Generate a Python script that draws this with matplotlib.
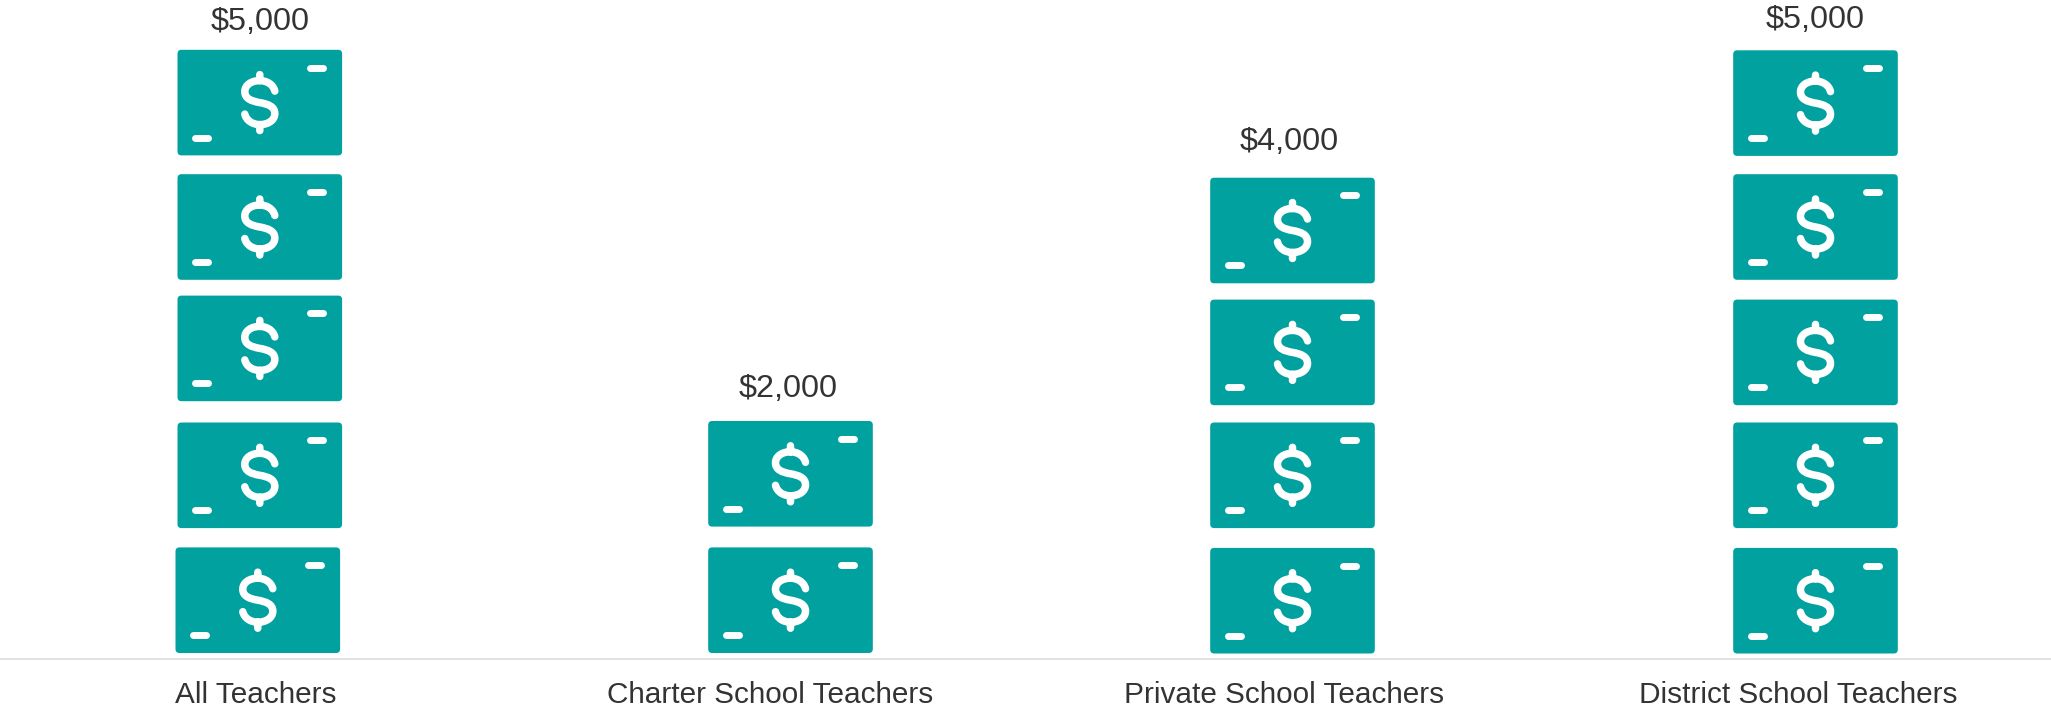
import matplotlib
matplotlib.use("Agg")
import matplotlib.pyplot as plt
from matplotlib.patches import FancyBboxPatch, PathPatch
from matplotlib.path import Path
from matplotlib.transforms import Affine2D

plt.rcParams['font.family'] = ['Liberation Sans', 'DejaVu Sans']

# data
categories = ["All Teachers", "Charter School Teachers", "Private School Teachers", "District School Teachers"]
amounts = [5000, 2000, 4000, 5000]
bill_value = 1000

# layout, in pixels of the 2051x708 picture
W, H = 2051, 708
baseline_px = 659
px_per_bill = 124.9
tick_x = [256, 770, 1284, 1798]
stack_x = [259.8, 790.5, 1292.5, 1815.5]
label_x = [260.5, 788, 1289, 1815]
label_gap = [27.5, 32, 35.5, 30.5]
bill_w, bill_h = 164.6, 105.6
# hand nudges (px, + is up) for each bill, bottom to top
nudge_y = [[1, 1, 3, -0.5, -1], [1, 2.5], [0.5, 1, -1, -4], [0.5, 1, -1, -0.5, -1.5]]
nudge_x = [[-2, 0, 0, 0, 0], [0, 0], [0, 0, 0, 0], [0, 0, 0, 0, 0]]

teal = "#00A19F"
pt = 72 / 100.0  # px to points at dpi 100

fig = plt.figure(figsize=(W / 100, H / 100), dpi=100)
ax = fig.add_axes([0, 0, 1, 1])
ax.set_xlim(0, W)
usd_per_px = bill_value / px_per_bill
ax.set_ylim(-(H - baseline_px) * usd_per_px, baseline_px * usd_per_px)

for s in ["left", "right", "top"]:
    ax.spines[s].set_visible(False)
ax.spines["bottom"].set_position(("data", 0))
ax.spines["bottom"].set_color("#E2E2E2")
ax.spines["bottom"].set_linewidth(2 * pt)
ax.set_yticks([])
ax.set_xticks(tick_x)
ax.set_xticklabels(categories, fontsize=21.4, color="#333333")
ax.tick_params(axis="x", length=0, pad=16)

S = [(15, 11.5), (13.5, 18), (7, 22), (0, 22), (-8.5, 22), (-15, 17.5), (-15, 11),
     (-15, 4), (-8.5, 1.5), (0, 0), (8.5, -1.5), (15, -4), (15, -11),
     (15, -17.5), (8.5, -22), (0, -22), (-7, -22), (-13.5, -18), (-15, -11.5)]
s_codes = [Path.MOVETO] + [Path.CURVE4] * 18
dollar = Path(S + [(0, 22), (0, 28), (0, -22), (0, -28)],
              s_codes + [Path.MOVETO, Path.LINETO, Path.MOVETO, Path.LINETO])
dashes = Path([(50, 35), (63.5, 35), (-65, -35), (-51.5, -35)],
              [Path.MOVETO, Path.LINETO, Path.MOVETO, Path.LINETO])


def draw_bill(x, y):
    # icon is drawn in pixels around the middle of the bill
    px, py = ax.transData.transform((x, y))
    tf = Affine2D().translate(px, py + 5 + bill_h / 2)
    r = 4
    ax.add_patch(FancyBboxPatch((-bill_w / 2 + r, -bill_h / 2 + r), bill_w - 2 * r, bill_h - 2 * r,
                                boxstyle="round,pad=%d,rounding_size=%d" % (r, r),
                                fc=teal, ec="none", transform=tf))
    ax.add_patch(PathPatch(dashes, fc="none", ec="white", lw=7 * pt, capstyle="round", transform=tf))
    ax.add_patch(PathPatch(dollar, fc="none", ec="white", lw=7.5 * pt, capstyle="round", transform=tf))


for i, amount in enumerate(amounts):
    n = amount // bill_value
    for j in range(n):
        draw_bill(stack_x[i] + nudge_x[i][j], j * bill_value + nudge_y[i][j] * usd_per_px)
    top = (n - 1) * bill_value + (nudge_y[i][n - 1] + 5 + bill_h + label_gap[i]) * usd_per_px
    ax.text(label_x[i], top, "${:,}".format(amount), ha="center", va="center",
            fontsize=23.3, color="#333333")

fig.savefig("out.png", dpi=100)
